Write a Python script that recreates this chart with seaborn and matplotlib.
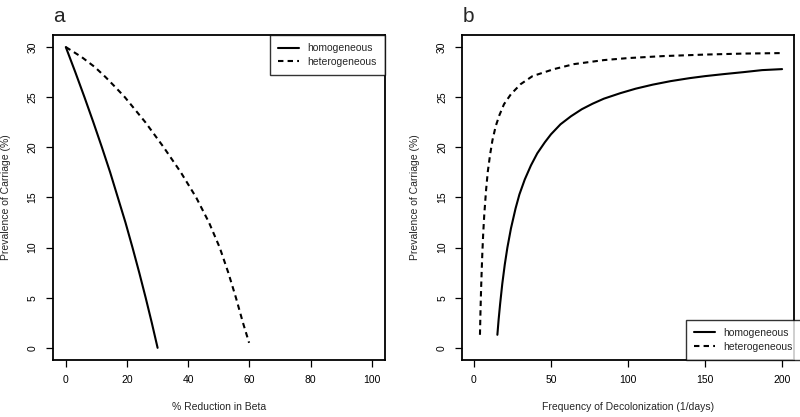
"""
Prevalence of carriage vs. intervention strength, homogeneous vs heterogeneous
mixing. Two panels in the old R base-graphics look.
"""

import numpy as np
import pandas as pd
import matplotlib
matplotlib.use("Agg")
import matplotlib.pyplot as plt
import seaborn as sns

# ── Data ──────────────────────────────────────────────────────────────────────
# panel a: % reduction in beta
beta_hom_x = [0, 3.1, 6.1, 9.0, 11.8, 14.5, 17.0, 19.5, 21.8, 24.0, 26.1, 28.1, 30]
beta_hom_y = [30, 27.5, 25, 22.5, 20, 17.5, 15, 12.5, 10, 7.5, 5, 2.5, 0]
beta_het_x = [0, 5.2, 9.5, 13.0, 16.2, 19.3, 26.0, 32.0, 37.6, 42.6, 46.8, 50.3, 53.1, 55.6, 57.9, 59.9]
beta_het_y = [30, 29, 28, 27, 26, 25, 22.5, 20, 17.5, 15, 12.5, 10, 7.5, 5, 2.5, 0.5]

# panel b: frequency of decolonization (1/days)
decol_hom_x = [15.2, 16, 17, 18.4, 20, 21.7, 24, 27, 29.5, 33, 37, 41.1, 46, 50, 56.2,
               63, 70, 77, 84.3, 95, 105, 116, 127.6, 140, 150, 162, 175, 187, 200]
decol_hom_y = [1.3, 2.8, 4.4, 6.4, 8.3, 10.0, 11.9, 13.9, 15.3, 16.8, 18.2, 19.4, 20.5, 21.3, 22.3,
               23.1, 23.8, 24.35, 24.85, 25.4, 25.85, 26.25, 26.6, 26.9, 27.1, 27.3, 27.5, 27.7, 27.8]
decol_het_x = [3.9, 4.2, 4.6, 5.0, 5.4, 6.0, 6.7, 7.9, 9, 10.5, 12, 14.1, 16.5, 19.5, 24,
               30.3, 38, 51.9, 65, 84.3, 100, 123, 150, 175, 200]
decol_het_y = [1.3, 3.4, 5.7, 7.6, 9.3, 11.4, 13.3, 15.8, 17.6, 19.3, 20.7, 22.1, 23.2, 24.3, 25.3,
               26.3, 27.1, 27.8, 28.3, 28.7, 28.9, 29.1, 29.25, 29.35, 29.4]

groups = ["homogeneous", "heterogeneous"]


def make_df(hx, hy, tx, ty):
    return pd.concat([
        pd.DataFrame({"x": hx, "y": hy, "model": groups[0]}),
        pd.DataFrame({"x": tx, "y": ty, "model": groups[1]}),
    ], ignore_index=True)


df_a = make_df(beta_hom_x, beta_hom_y, beta_het_x, beta_het_y)
df_b = make_df(decol_hom_x, decol_hom_y, decol_het_x, decol_het_y)

# ── Style ─────────────────────────────────────────────────────────────────────
sns.set_style("ticks")
plt.rcParams["font.family"] = ["Liberation Sans", "DejaVu Sans"]
plt.rcParams["font.size"] = 7.5

fig = plt.figure(figsize=(8, 4.17), dpi=100)
ax_a = fig.add_axes([0.066, 0.137, 0.415, 0.779])
ax_b = fig.add_axes([0.578, 0.137, 0.415, 0.779])

dash_map = {groups[0]: "", groups[1]: (2.6, 2.0)}


def draw(ax, df, xlim, xticks, xlabel, letter, legend_kw):
    sns.lineplot(data=df, x="x", y="y", style="model", dashes=dash_map,
                 color="black", linewidth=1.5, sort=False, ax=ax,
                 estimator=None)
    ax.set_xlim(*xlim)
    ax.set_ylim(-1.2, 31.2)
    ax.set_xticks(xticks)
    ax.set_yticks([0, 5, 10, 15, 20, 25, 30])
    for lab in ax.get_yticklabels():
        lab.set_rotation(90)
        lab.set_va("center")
    ax.tick_params(direction="out", length=5, width=0.9, colors="black",
                   labelsize=7.5, pad=6)
    for s in ax.spines.values():
        s.set_visible(True)
        s.set_linewidth(1.3)
        s.set_color("black")
    ax.set_xlabel(xlabel, fontsize=7.5, labelpad=12)
    ax.set_ylabel("Prevalence of Carriage (%)", fontsize=7.5, labelpad=12)
    ax.text(0.0, 1.04, letter, transform=ax.transAxes, fontsize=15,
            ha="left", va="baseline")
    leg = ax.legend(title=None, fontsize=7.5, frameon=True,
                    fancybox=False, edgecolor="black", borderaxespad=0,
                    handlelength=2.0, handletextpad=0.8, borderpad=0.8,
                    labelspacing=0.35, **legend_kw)
    leg.get_frame().set_linewidth(1.0)
    leg.set_zorder(5)


draw(ax_a, df_a, (-4.25, 104.25), [0, 20, 40, 60, 80, 100],
     "% Reduction in Beta", "a", {"loc": "upper right"})
draw(ax_b, df_b, (-7.5, 208), [0, 50, 100, 150, 200],
     "Frequency of Decolonization (1/days)", "b",
     {"loc": "lower right", "bbox_to_anchor": (1.02, 0.0)})

fig.savefig("out.png", dpi=100)
